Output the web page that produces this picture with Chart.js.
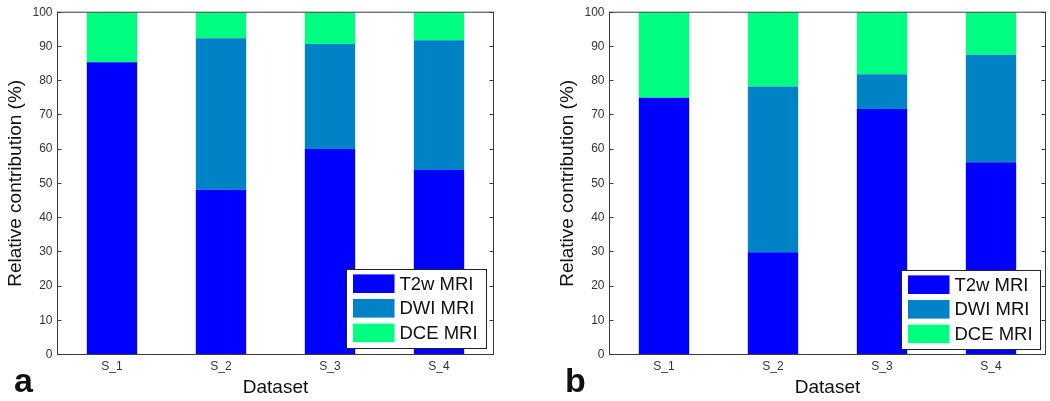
<!DOCTYPE html>
<html>
<head>
<meta charset="utf-8">
<script src="https://cdn.jsdelivr.net/npm/chart.js@4/dist/chart.umd.min.js"></script>
<style>
  html, body { margin:0; padding:0; background:#fff; width:1050px; height:401px; overflow:hidden; }
  .panel { position:absolute; top:0; width:525px; height:401px; }
  .tag { position:absolute; font-family:"Liberation Sans", Arial, sans-serif; font-weight:bold; font-size:34px; color:#111; line-height:1; }
</style>
</head>
<body>
<div class="panel" style="left:0"><canvas id="ca" width="525" height="401"></canvas></div>
<div class="panel" style="left:525px"><canvas id="cb" width="525" height="401"></canvas></div>
<div class="tag" style="left:14px; top:363px;">a</div>
<div class="tag" style="left:565px; top:363px;">b</div>
<script>
// ---- data ----
const categories = ['S_1', 'S_2', 'S_3', 'S_4'];
const seriesNames = ['T2w MRI', 'DWI MRI', 'DCE MRI'];
const a_T2w = [85.4, 48.1, 60.0, 53.9];
const a_DWI = [0.0, 44.3, 30.7, 37.9];
const a_DCE = [14.6, 7.6, 9.3, 8.2];
const b_T2w = [75.0, 29.9, 71.7, 56.2];
const b_DWI = [0.0, 48.4, 10.2, 31.4];
const b_DCE = [25.0, 21.7, 18.1, 12.4];
const yTickStep = 10;

const colors = ['#0000FF', '#0082C6', '#00FF80'];
const FONT = '"Liberation Sans", Arial, sans-serif';

// frame, inside ticks and boxed legend (MATLAB style)
const matlabPlugin = {
  id: 'matlab',
  afterDatasetsDraw(chart, args, opts) {
    const ctx = chart.ctx;
    const ca = chart.chartArea;
    const ys = chart.scales.y;
    ctx.save();
    ctx.strokeStyle = '#3a3a3a';
    ctx.lineWidth = 1;
    // inside ticks
    ys.ticks.forEach(t => {
      const py = Math.round(ys.getPixelForValue(t.value) - 0.5) + 0.5;
      ctx.beginPath();
      ctx.moveTo(ca.left, py); ctx.lineTo(ca.left + 4, py);
      ctx.moveTo(ca.right, py); ctx.lineTo(ca.right - 4, py);
      ctx.stroke();
    });
    // frame
    ctx.strokeRect(ca.left, ca.top, ca.right - ca.left, ca.bottom - ca.top);

    // legend
    const bw = opts.boxWidth, bh = 79;
    const bx = Math.round(ca.right - opts.gapRight - bw) + 0.5;
    const by = Math.round(ca.bottom - opts.gapBottom - bh) + 0.5;
    ctx.fillStyle = '#fff';
    ctx.fillRect(bx, by, bw, bh);
    ctx.strokeStyle = '#222';
    ctx.strokeRect(bx, by, bw, bh);
    ctx.font = '18.5px ' + FONT;
    ctx.textBaseline = 'middle';
    ctx.textAlign = 'left';
    chart.data.datasets.forEach((ds, i) => {
      const cy = by + 14.2 + i * 24.6;
      ctx.fillStyle = ds.backgroundColor;
      ctx.fillRect(bx + 6.5, cy - 9.3, 41.5, 18.6);
      ctx.fillStyle = '#111';
      ctx.fillText(ds.label, bx + 53, cy + 1);
    });
    ctx.restore();
  }
};

function makeChart(id, t2w, dwi, dce, padLeft, padRight, legendOpts) {
  const sets = [t2w, dwi, dce];
  return new Chart(document.getElementById(id), {
    type: 'bar',
    data: {
      labels: categories,
      datasets: sets.map((d, i) => ({
        label: seriesNames[i],
        data: d,
        backgroundColor: colors[i],
        borderWidth: 0,
        barPercentage: 0.462,
        categoryPercentage: 1.0
      }))
    },
    options: {
      responsive: false,
      animation: false,
      devicePixelRatio: 1,
      layout: { padding: { left: padLeft, right: padRight, top: 11.5, bottom: 0 } },
      plugins: {
        legend: { display: false },
        tooltip: { enabled: false },
        matlab: legendOpts
      },
      scales: {
        x: {
          stacked: true,
          grid: { display: false, drawTicks: false },
          border: { display: false },
          ticks: { font: { family: FONT, size: 12 }, color: '#333', padding: 5 },
          title: { display: true, text: 'Dataset', font: { family: FONT, size: 19 }, color: '#111',
                   padding: { top: 0, bottom: 2 } },
          afterFit(s) { s.height = 46.5; }
        },
        y: {
          stacked: true,
          min: 0, max: 100,
          grid: { display: false, drawTicks: false },
          border: { display: false },
          ticks: { stepSize: yTickStep, font: { family: FONT, size: 12 }, color: '#333', padding: 5 },
          title: { display: true, text: 'Relative contribution (%)', font: { family: FONT, size: 19 }, color: '#111',
                   padding: { top: 4, bottom: 0 } },
          afterFit(s) { s.width = 57.5; }
        }
      }
    },
    plugins: [matlabPlugin]
  });
}

makeChart('ca', a_T2w, a_DWI, a_DCE, 0, 31.5, { boxWidth: 140, gapRight: 7.5, gapBottom: 7 });
makeChart('cb', b_T2w, b_DWI, b_DCE, 27, 4.5, { boxWidth: 139, gapRight: 6, gapBottom: 6 });
</script>
</body>
</html>
